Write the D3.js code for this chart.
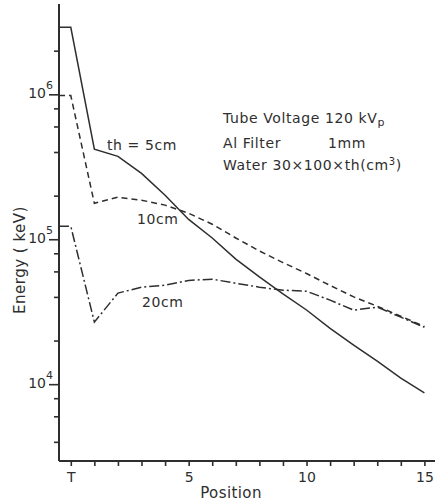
<!DOCTYPE html>
<html>
<head>
<meta charset="utf-8">
<script src="https://cdn.jsdelivr.net/npm/d3@7/dist/d3.min.js"></script>
<style>
  html, body { margin: 0; padding: 0; background: #fff; }
  svg { display: block; }
  text { font-family: "DejaVu Sans", sans-serif; fill: #2e2e2e; }
</style>
</head>
<body>
<script>
// Energy transmitted through a water phantom along the detector positions
const positions = [-0.5, 0, 1, 2, 3, 4, 5, 6, 7, 8, 9, 10, 11, 12, 13, 14, 15];
const energy5cm = [2.9e6, 2.9e6, 4.18e5, 3.73e5, 2.85e5, 2.01e5, 1.37e5, 1.02e5, 7.3e4, 5.5e4, 4.2e4, 3.25e4, 2.43e4, 1.86e4, 1.44e4, 1.1e4, 8.7e3];
const energy10cm = [9.8e5, 9.8e5, 1.77e5, 1.95e5, 1.86e5, 1.72e5, 1.51e5, 1.27e5, 1.02e5, 8.3e4, 6.9e4, 5.8e4, 4.8e4, 4.0e4, 3.45e4, 2.94e4, 2.5e4];
const energy20cm = [1.23e5, 1.23e5, 2.68e4, 4.25e4, 4.67e4, 4.82e4, 5.2e4, 5.3e4, 4.97e4, 4.67e4, 4.45e4, 4.38e4, 3.8e4, 3.24e4, 3.4e4, 2.9e4, 2.47e4];
const seriesLabels = ["th = 5cm", "10cm", "20cm"];
const xTickValues = [0, 1, 2, 3, 4, 5, 6, 7, 8, 9, 10, 11, 12, 13, 14, 15];
const xTickLabels = { 0: "T", 5: "5", 10: "10", 15: "15" };
const yMajorTicks = [1e4, 1e5, 1e6];
const yMinorTicks = [4e3, 6e3, 8e3, 2e4, 4e4, 6e4, 8e4, 2e5, 4e5, 6e5, 8e5, 2e6];

const W = 435, H = 504;
const svg = d3.select("body").append("svg").attr("width", W).attr("height", H);

const x = d3.scaleLinear().domain([-0.5, 15.45]).range([59, 435]);
const y = d3.scaleLog().domain([2950, 4.2e6]).range([461, 4]);

const ink = "#2e2e2e";

// Axes
const yMinor = svg.append("g").attr("transform", `translate(${x(-0.5)},0)`)
  .call(d3.axisLeft(y).tickValues(yMinorTicks).tickSize(5).tickFormat(""));
const yMajor = svg.append("g").attr("transform", `translate(${x(-0.5)},0)`)
  .call(d3.axisLeft(y).tickValues(yMajorTicks).tickSize(10).tickFormat(""));
const xAxis = svg.append("g").attr("transform", `translate(0,${y.range()[0]})`)
  .call(d3.axisBottom(x).tickValues(xTickValues).tickSize(5).tickPadding(6)
    .tickFormat(d => xTickLabels[d] || ""));

[yMinor, yMajor, xAxis].forEach(g => {
  g.select(".domain").attr("stroke", ink).attr("stroke-width", 2);
  g.selectAll(".tick line").attr("stroke", ink).attr("stroke-width", 1.6);
});
yMinor.select(".domain").remove();
xAxis.select(".domain").attr("d", `M${x(-0.5)},0H${W}`);
yMajor.select(".domain").attr("d", `M0,${y.range()[0]}V${y.range()[1]}`);
xAxis.selectAll(".tick text").attr("font-size", 14).attr("fill", ink)
  .style("font-family", "'DejaVu Sans', sans-serif");

// Power-of-ten labels
yMajorTicks.forEach(v => {
  svg.append("text")
    .attr("x", 46).attr("y", y(v) + 4)
    .attr("text-anchor", "end").attr("font-size", 14)
    .text("10");
  svg.append("text")
    .attr("x", 46).attr("y", y(v) - 5)
    .attr("font-size", 11)
    .text(String(Math.round(Math.log10(v))));
});

// Curves
const line = d3.line().x((d, i) => x(positions[i])).y(d => y(d));
const styles = [
  { data: energy5cm, dash: null },
  { data: energy10cm, dash: "6,4" },
  { data: energy20cm, dash: "10,3,2,3" }
];
styles.forEach(s => {
  svg.append("path")
    .datum(s.data)
    .attr("d", line)
    .attr("fill", "none")
    .attr("stroke", ink)
    .attr("stroke-width", 1.5)
    .attr("stroke-dasharray", s.dash);
});

// Curve labels
const labelPos = [[107, 150], [137, 224], [142, 307]];
seriesLabels.forEach((s, i) => {
  svg.append("text").attr("x", labelPos[i][0]).attr("y", labelPos[i][1])
    .attr("font-size", 14).attr("letter-spacing", 0.6).text(s);
});

// Exposure conditions
const cond = svg.append("g").attr("font-size", 14).attr("letter-spacing", 0.6);
const l1 = cond.append("text").attr("x", 223).attr("y", 123);
l1.append("tspan").text("Tube Voltage 120 kV");
l1.append("tspan").attr("font-size", 11).attr("dy", 3).text("p");
cond.append("text").attr("x", 223).attr("y", 148).text("Al Filter");
cond.append("text").attr("x", 328).attr("y", 148).text("1mm");
const l3 = cond.append("text").attr("x", 223).attr("y", 170);
l3.append("tspan").text("Water  30×100×th(cm");
l3.append("tspan").attr("font-size", 10).attr("dy", -5).text("3");
l3.append("tspan").attr("dy", 5).text(")");

// Axis titles
svg.append("text")
  .attr("transform", `translate(25,260) rotate(-90)`)
  .attr("text-anchor", "middle").attr("font-size", 15).attr("letter-spacing", 0.5)
  .text("Energy ( keV)");
svg.append("text")
  .attr("x", 231).attr("y", 498)
  .attr("text-anchor", "middle").attr("font-size", 15).attr("letter-spacing", 0.4)
  .text("Position");
</script>
</body>
</html>
